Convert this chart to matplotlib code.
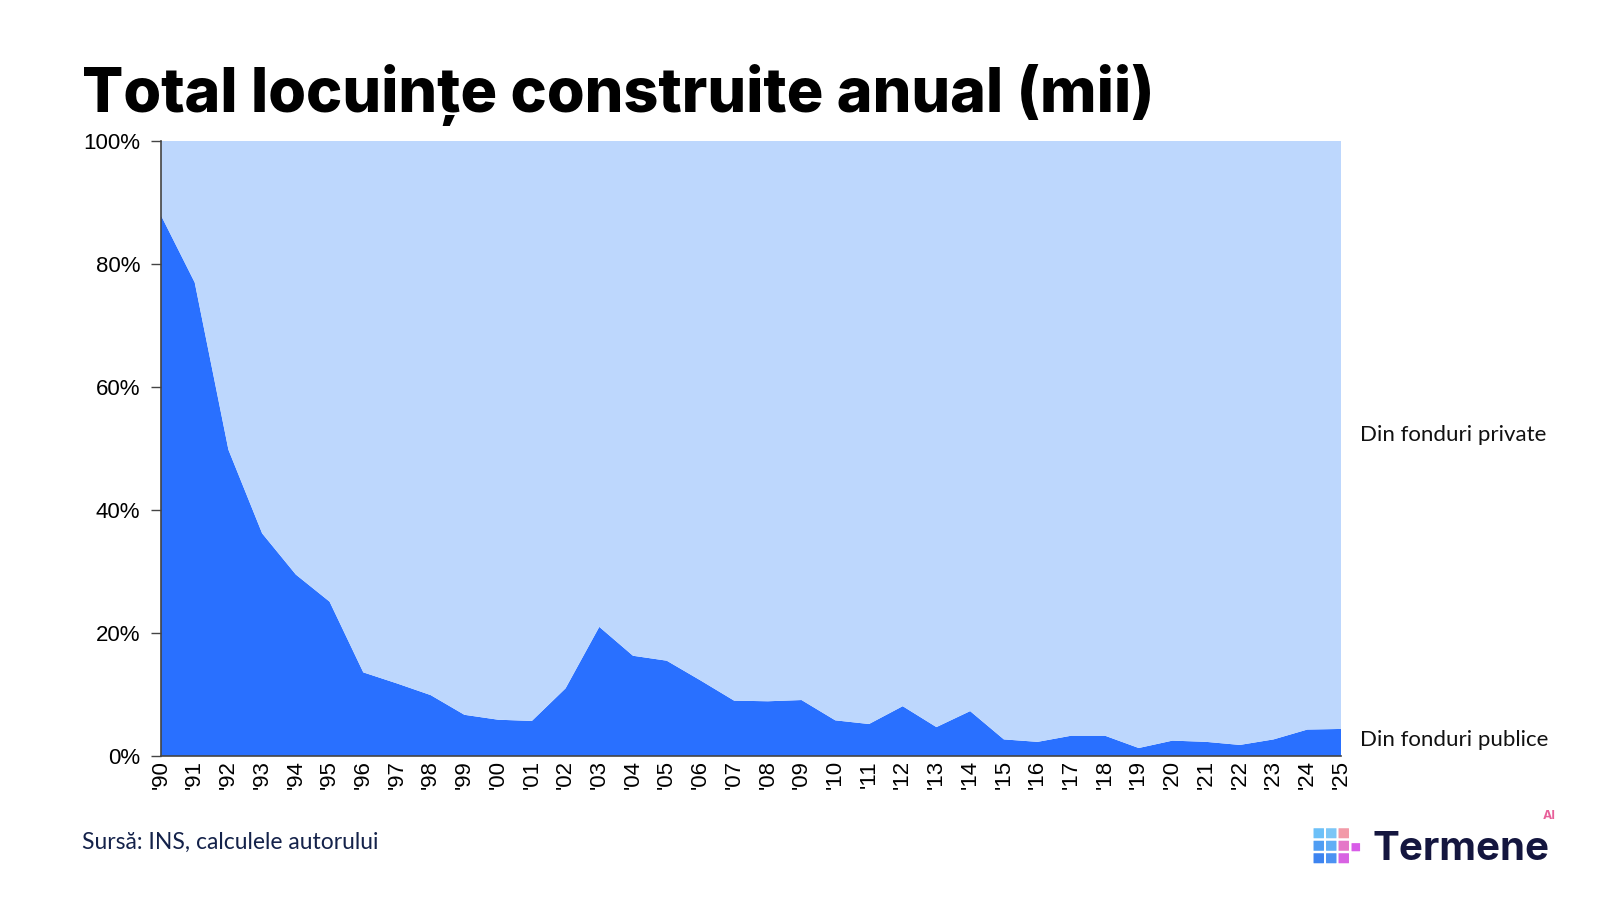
import matplotlib
matplotlib.use("Agg")
import matplotlib.pyplot as plt
from matplotlib.patches import FancyBboxPatch
import numpy as np

years = ["'90", "'91", "'92", "'93", "'94", "'95", "'96", "'97", "'98", "'99",
         "'00", "'01", "'02", "'03", "'04", "'05", "'06", "'07", "'08", "'09",
         "'10", "'11", "'12", "'13", "'14", "'15", "'16", "'17", "'18", "'19",
         "'20", "'21", "'22", "'23", "'24", "'25"]
public_share = [87.9, 77.0, 49.8, 36.2, 29.5, 25.1, 13.6, 11.8, 9.9, 6.7,
                5.9, 5.7, 11.0, 21.0, 16.3, 15.5, 12.3, 9.0, 8.9, 9.1,
                5.8, 5.2, 8.1, 4.7, 7.3, 2.7, 2.3, 3.3, 3.3, 1.3,
                2.5, 2.3, 1.8, 2.7, 4.3, 4.4]
private_share = [100 - v for v in public_share]
yticks = [0, 20, 40, 60, 80, 100]
ytick_labels = ["0%", "20%", "40%", "60%", "80%", "100%"]
series_names = ["Din fonduri publice", "Din fonduri private"]

DARK = "#2970FF"
LIGHT = "#BDD7FD"

fig = plt.figure(figsize=(16, 9), dpi=100)
ax = fig.add_axes([161 / 1600, 1 - 756 / 900, (1341 - 161) / 1600, (756 - 141) / 900])
x = np.arange(len(years))
ax.stackplot(x, public_share, private_share, colors=[DARK, LIGHT], linewidth=0)
ax.set_xlim(0, len(years) - 1)
ax.set_ylim(0, 100)
ax.set_yticks(yticks)
ax.set_yticklabels(ytick_labels, fontsize=16, family="Liberation Sans")
ax.set_xticks(x)
ax.set_xticklabels(years, rotation=90, fontsize=16, family="Liberation Sans")
ax.tick_params(axis="x", length=0, pad=3)
ax.tick_params(axis="y", length=7, width=1, color="#444444", pad=8)
for s in ["top", "right"]:
    ax.spines[s].set_visible(False)
for s in ["left", "bottom"]:
    ax.spines[s].set_color("#444444")
    ax.spines[s].set_linewidth(1.2)

# series labels on the right
fig.text(1360 / 1600, 1 - 435 / 900, series_names[1], fontsize=16, family="Lato",
         va="center", ha="left", color="#111111")
fig.text(1360 / 1600, 1 - 740 / 900, series_names[0], fontsize=16, family="Lato",
         va="center", ha="left", color="#111111")

# title
fig.text(82 / 1600, 1 - 112 / 900, "Total locuințe construite anual (mii)",
         fontsize=44, family="Inter", weight="heavy", color="black",
         ha="left", va="baseline")

# source
fig.text(82 / 1600, 1 - 842 / 900, "Sursă: INS, calculele autorului",
         fontsize=16.5, family="Lato", color="#14224A", ha="left", va="center")

# logo
logo_cols = [["#6CC0F8", "#7CC6F6", "#F29AA8"],
             ["#4F9DF3", "#62AEF5", "#E577C8"],
             ["#3D84F0", "#4C92F2", "#D862E2"]]
sz = 9.5 / 1600
szh = 9.5 / 900
for r in range(3):
    for c in range(3):
        x0 = (1314 + c * 12.5) / 1600
        y0 = 1 - (838 + r * 12.5) / 900
        fig.patches.append(FancyBboxPatch((x0, y0), sz, szh, boxstyle="round,pad=0.0003",
                                          transform=fig.transFigure, color=logo_cols[r][c],
                                          linewidth=0))
fig.patches.append(FancyBboxPatch((1352 / 1600, 1 - 851 / 900), sz * 0.8, szh * 0.8,
                                  boxstyle="round,pad=0.0003", transform=fig.transFigure,
                                  color="#D85CE8", linewidth=0))
fig.text(1372 / 1600, 1 - 849 / 900, "Termene", fontsize=29, family="Inter",
         weight="bold", color="#14163F", ha="left", va="center")
fig.text(1543 / 1600, 1 - 822 / 900, "AI", fontsize=9, family="Inter",
         weight="bold", color="#E8609A", ha="left", va="bottom")

fig.savefig("out.png", dpi=100)
